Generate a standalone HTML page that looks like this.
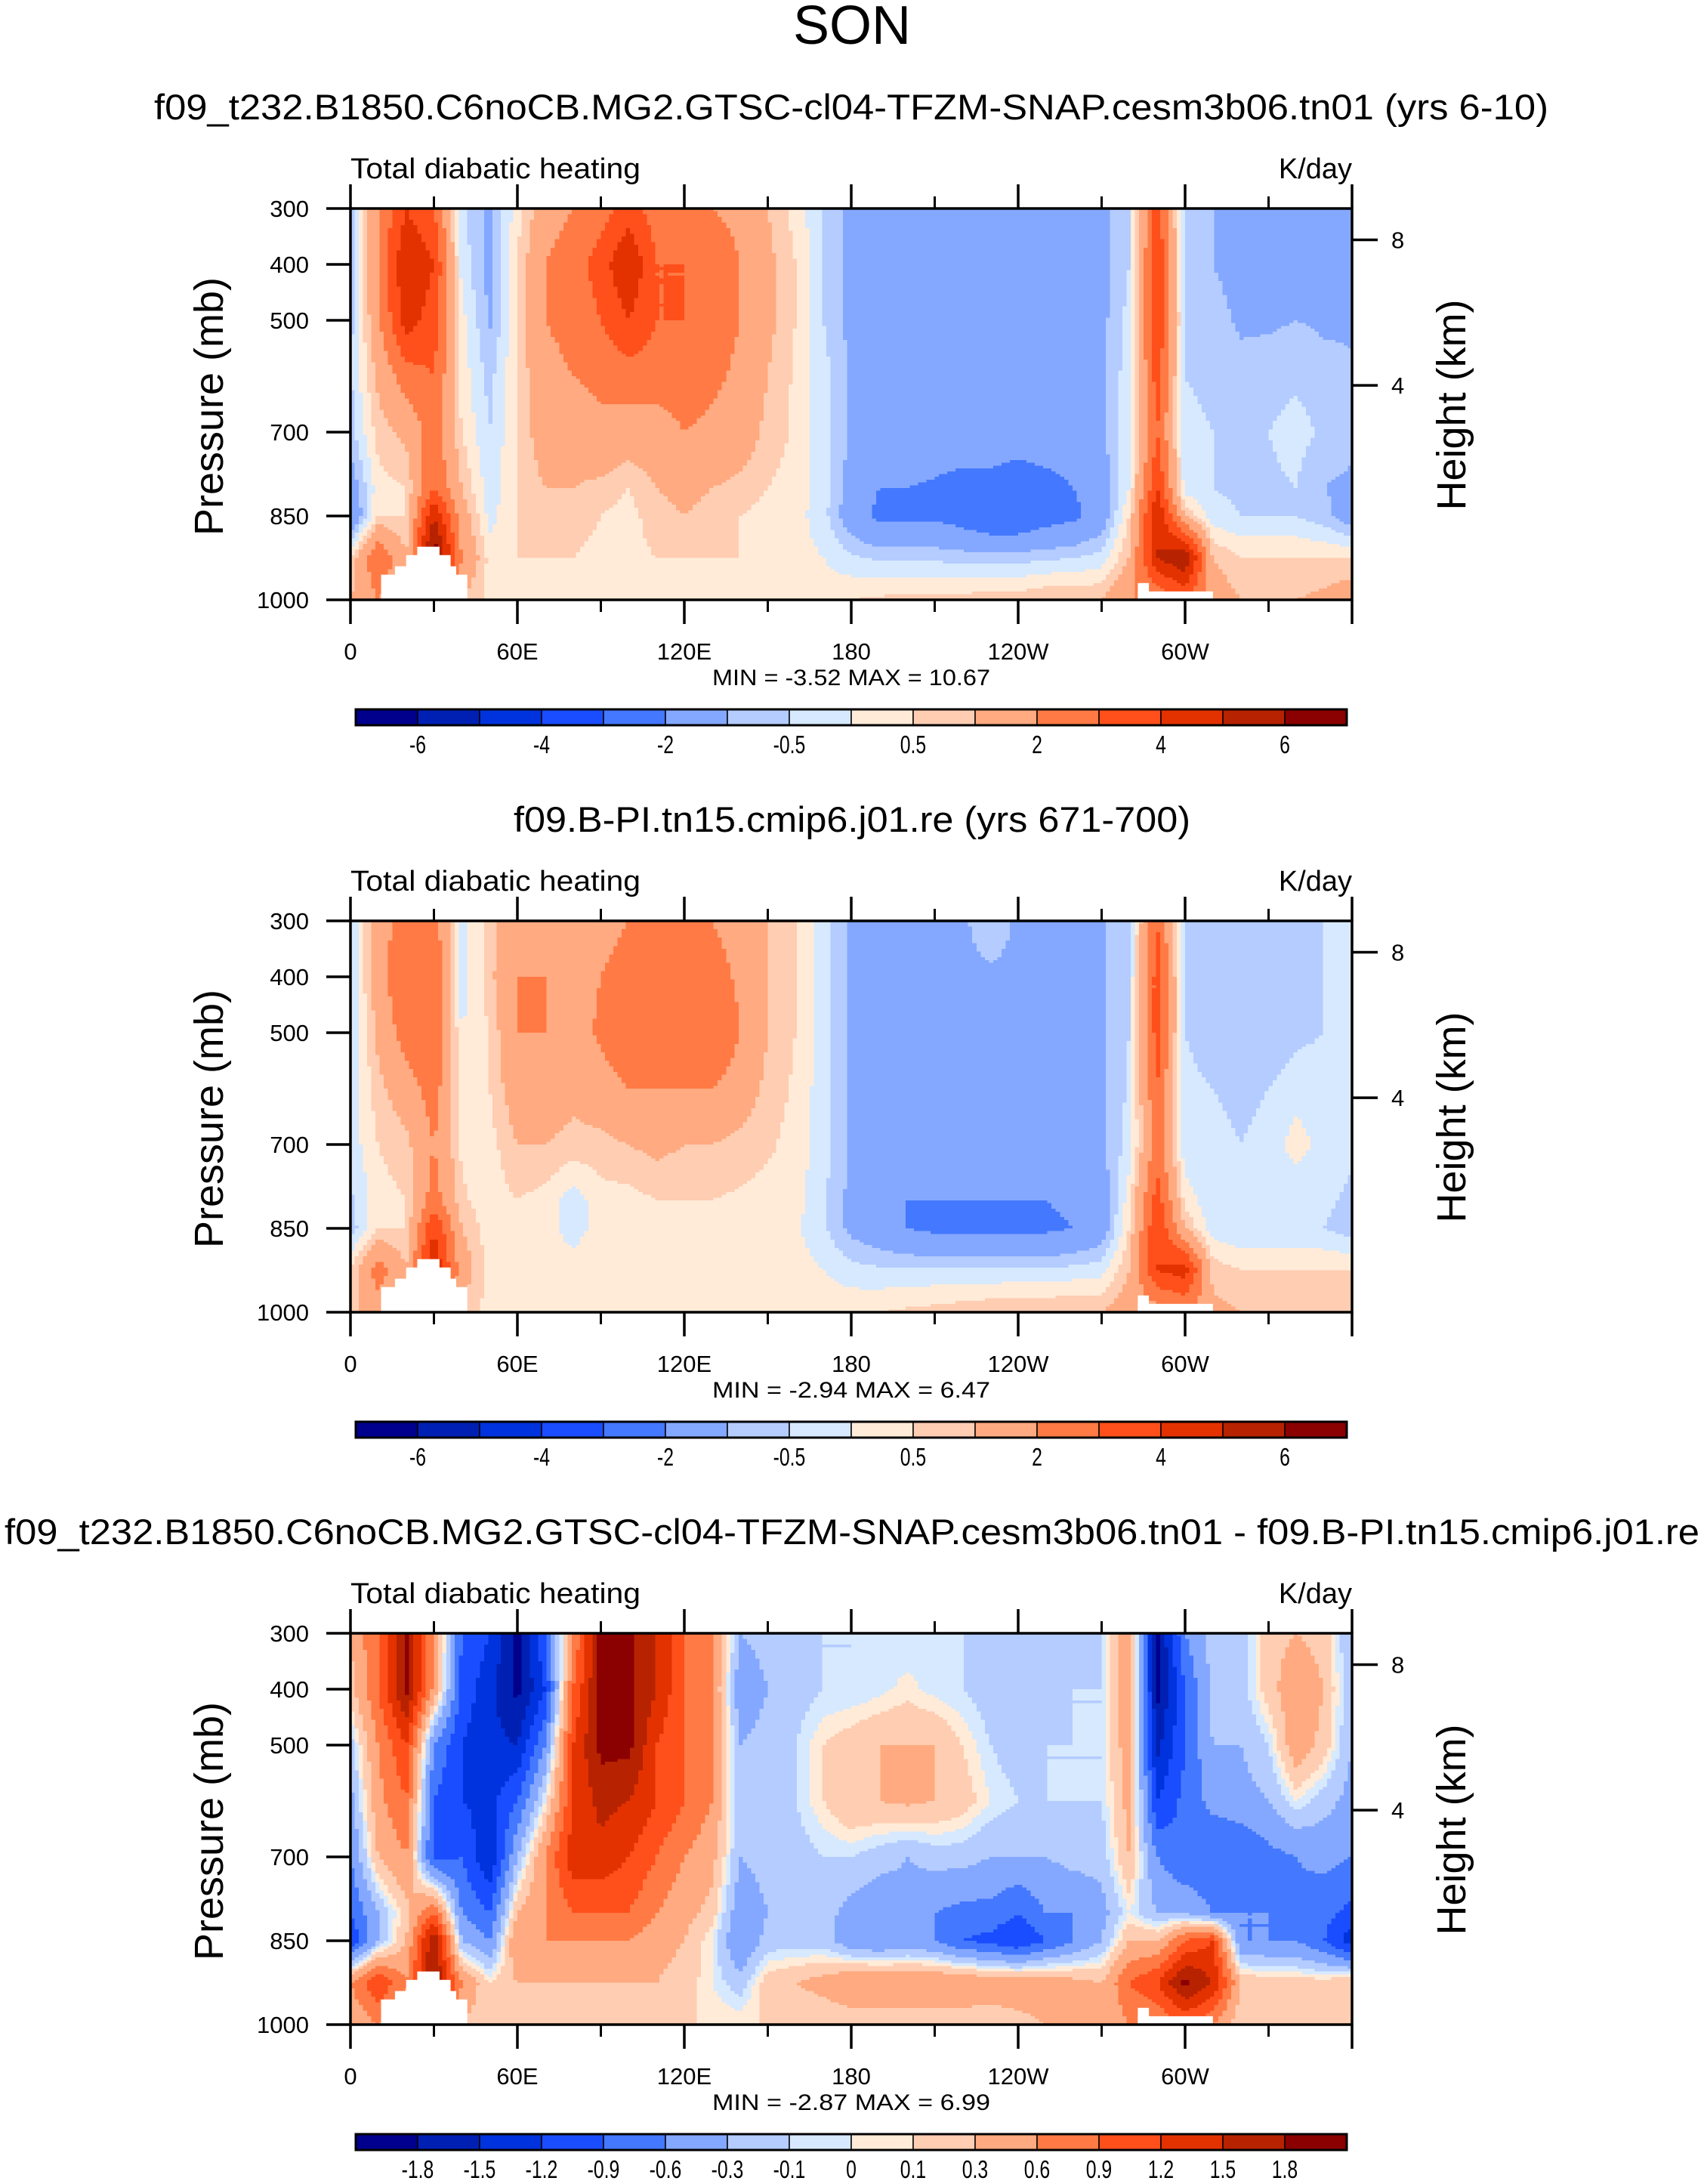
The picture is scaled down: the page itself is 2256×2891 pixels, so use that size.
<!DOCTYPE html>
<html><head><meta charset="utf-8">
<style>
html,body{margin:0;padding:0;background:#fff;}
svg{display:block;font-family:"Liberation Sans",sans-serif;}
</style></head>
<body>
<svg id="fig" width="2256" height="2891" viewBox="0 0 2256 2891" xmlns="http://www.w3.org/2000/svg">
<rect x="0" y="0" width="2256" height="2891" fill="#fff"/>
<text x="1128" y="58" font-size="72" text-anchor="middle">SON</text>
<g id="panels"></g>
</svg>
<script>
// ---- data ----
const lons = [0,10,20,30,40,50,60,70,80,90,100,110,120,130,140,150,160,170,180,190,200,210,220,230,240,250,260,270,280,290,300,310,320,330,340,350,360];
const levels = [300,400,500,600,700,800,850,925,1000];
const xTickLabels = ["0","60E","120E","180","120W","60W"];
const xTickLons = [0,60,120,180,240,300];
const xMinorLons = [30,90,150,210,270,330];
const pTicks = [300,400,500,700,850,1000];
const hTicks = [8,4];
const boundsA = [-6,-5,-4,-3,-2,-1,-0.5,0,0.5,1,2,3,4,5,6];
const boundsB = [-1.8,-1.5,-1.2,-0.9,-0.6,-0.3,-0.1,0,0.1,0.3,0.6,0.9,1.2,1.5,1.8];
const labelsA = ["-6","-4","-2","-0.5","0.5","2","4","6"];
const labelsB = ["-1.8","-1.5","-1.2","-0.9","-0.6","-0.3","-0.1","0","0.1","0.3","0.6","0.9","1.2","1.5","1.8"];
const colors = ["#00008c","#0020b4","#0033dd","#1a4dff","#4478ff","#84a8ff","#b4ccff","#d6e9ff","#ffebd8","#ffcdb2","#ffaa80","#ff7a45","#ff4f1a","#e33200","#b72200","#8b0000"];
const masks = [[11,42,955],[16,38,940],[20,36,920],[24,32,905],[283,310,985],[283,287,970]];
const titles = ["f09_t232.B1850.C6noCB.MG2.GTSC-cl04-TFZM-SNAP.cesm3b06.tn01 (yrs 6-10)","f09.B-PI.tn15.cmip6.j01.re (yrs 671-700)","f09_t232.B1850.C6noCB.MG2.GTSC-cl04-TFZM-SNAP.cesm3b06.tn01 - f09.B-PI.tn15.cmip6.j01.re"];
const minmax = ["MIN =  -3.52  MAX =  10.67","MIN =  -2.94  MAX =  6.47","MIN =  -2.87  MAX =  6.99"];

const field1 = [
[-1,2,4,3,-0.3,-1.2,0.3,1.5,2,2.5,3.5,2.5,2.5,2,1.8,1,0.3,-0.5,-1.2,-1.2,-1.2,-1.2,-1.2,-1.2,-1.2,-1.2,-1.2,-1.2,-0.5,3.5,-0.6,-1,-1.2,-1.2,-1.2,-1.2,-1.2],
[-0.8,2,5,4,-0.2,-1.2,0.5,2,2.5,3.5,5,3,3,2.5,2,1.2,0.5,-0.5,-1.2,-1.2,-1.2,-1.2,-1.2,-1.2,-1.2,-1.2,-1.2,-1.2,-0.5,4,-0.6,-1,-1.2,-1.2,-1.1,-1.2,-1.2],
[-0.7,1.8,4.5,3.5,0.2,-1.1,0.5,2,2.2,3,4,3,3,2.5,2,1.2,0.5,-0.5,-1.2,-1.2,-1.2,-1.2,-1.2,-1.2,-1.2,-1.2,-1.2,-1.2,-0.3,4,-0.5,-0.8,-1.1,-1.1,-1,-1.1,-1.1],
[-0.6,1.2,2.5,3,0.3,-0.7,0.5,1.8,2,2.2,2.5,2.5,2.5,2.2,1.8,1,0.4,-0.3,-1.1,-1.1,-1.1,-1.1,-1.1,-1.1,-1.1,-1.1,-1.1,-1.1,-0.2,3.5,-0.5,-0.6,-0.8,-0.7,-0.6,-0.8,-0.9],
[-0.7,0.7,1.2,2.5,0.5,-0.5,0.5,1.5,1.5,1.8,1.5,1.5,2,1.8,1.5,0.8,0.4,-0.3,-1.1,-1.1,-1.1,-1.1,-1.1,-1.1,-1.1,-1.1,-1.1,-1.1,-0.2,3,-0.4,-0.5,-0.6,-0.5,-0.3,-0.6,-0.7],
[-1.5,0.3,0.5,3,1,-0.3,0.5,1,1,0.8,0.5,1,1.2,1,0.8,0.5,0.3,-0.3,-1.3,-2,-2,-2.2,-2.5,-2.5,-3,-2.5,-2,-1.5,0,4,-0.3,-0.5,-0.6,-0.6,-0.5,-1,-1.2],
[-2,0.5,0.5,5,1.5,-0.2,0.5,0.8,0.8,0.5,0.3,0.8,1,0.8,0.5,0.3,0.2,-0.3,-1.5,-2.2,-2.2,-2.2,-2.5,-3,-3,-2.5,-2.2,-1.5,0.5,5,1,-0.3,-0.5,-0.5,-0.5,-0.8,-1.5],
[0.5,3,1,7,2,0.3,0.5,0.5,0.5,0.3,0.3,0.5,0.5,0.5,0.5,0.3,0.2,0,-0.4,-0.6,-0.6,-0.6,-0.7,-0.7,-0.7,-0.6,-0.5,-0.3,1,5,6,1,0.5,0.5,0.5,0.5,0.5],
[1,2,1,3,1,0.3,0.3,0.3,0.3,0.3,0.3,0.3,0.3,0.3,0.3,0.3,0.3,0.3,0.5,0.6,0.7,0.7,0.7,0.8,0.8,1,1,1,2,2,3,1.5,1,1,1,1.2,1.5]];

const field2 = [
[-0.5,1.5,2.5,2.5,-0.3,0.8,1.5,1.5,1.2,1.5,2,2,2,2,1.5,1,0.5,-0.3,-1.1,-1.1,-1.1,-1.1,-1.1,-0.7,-1.1,-1.1,-1.1,-1.1,-0.5,3,-0.5,-0.6,-0.7,-0.8,-0.6,-0.5,-0.5],
[-0.5,1.5,3,3,-0.3,0.8,2,2,1.5,2,2.5,2.5,3,2.5,1.8,1,0.5,-0.3,-1.1,-1.1,-1.1,-1.1,-1.1,-1.1,-1.1,-1.1,-1.1,-1.1,-0.5,3.5,-0.5,-0.8,-1,-1,-0.7,-0.5,-0.5],
[-0.5,1.2,2.5,3,0,0.5,2,2,1.5,2.2,3,2.5,3,3,2,1,0.5,-0.3,-1.1,-1.1,-1.1,-1.1,-1.1,-1.1,-1.1,-1.1,-1.1,-1.1,-0.5,3.5,-0.5,-0.7,-1,-0.8,-0.6,-0.5,-0.5],
[-0.4,0.8,1.5,2.5,0.2,0.5,1.5,1.5,1.2,1.5,2,2,2,2,1.5,0.8,0.4,-0.3,-1.1,-1.1,-1.1,-1.1,-1.1,-1.1,-1.1,-1.1,-1.1,-1.1,-0.4,3,-0.4,-0.5,-0.6,-0.5,-0.3,-0.3,-0.4],
[-0.3,0.5,0.8,2,0.4,0.3,1,1,0.8,0.8,1,1.2,1,1,0.8,0.6,0.3,-0.3,-1.1,-1.1,-1.1,-1.1,-1.1,-1.1,-1.1,-1.1,-1.1,-1.1,-0.3,2.5,-0.4,-0.4,-0.5,-0.4,0.3,-0.3,-0.4],
[-0.6,0.3,0.5,2.5,0.6,0.2,0.5,0.3,-0.3,0.3,0.3,0.5,0.5,0.5,0.4,0.3,0.2,-0.4,-1.2,-1.5,-2,-2,-2,-2,-2,-2,-1.8,-1.5,0.3,3.5,0.3,-0.4,-0.5,-0.5,-0.5,-0.4,-0.6],
[-0.8,0.5,0.5,4,1,0.2,0.4,0.2,-0.2,0.2,0.3,0.4,0.4,0.4,0.3,0.2,0.1,-0.4,-1.2,-1.6,-2,-2.2,-2.2,-2.2,-2.2,-2.2,-2,-1.5,0.5,4,1,-0.3,-0.5,-0.5,-0.5,-0.5,-0.8],
[0.5,2.5,1,5,1.5,0.3,0.3,0.2,0.2,0.3,0.3,0.3,0.3,0.3,0.3,0.2,0.2,0,-0.3,-0.4,-0.4,-0.4,-0.4,-0.4,-0.4,-0.4,-0.3,-0.2,1,4,4.5,0.8,0.5,0.5,0.5,0.5,0.5],
[0.8,1.5,1,2,0.8,0.3,0.3,0.3,0.3,0.3,0.3,0.3,0.3,0.3,0.3,0.3,0.3,0.3,0.4,0.5,0.6,0.7,0.8,0.9,1,1,1,1,1.5,1.5,2,1.2,1,1,1,1,1]];

const field3 = [
[0.3,0.9,1.9,0.6,-0.9,-1.2,-1.9,-0.9,0.6,1.9,1.9,1.5,0.9,0.6,-0.3,-0.2,-0.1,-0.1,-0.1,-0.1,-0.1,-0.1,-0.1,-0.2,-0.3,-0.3,-0.2,-0.1,0.6,-1.9,-0.6,-0.2,-0.2,0.2,0.3,0.2,-0.3],
[0.2,0.9,1.9,0.5,-1,-1.4,-1.9,-1.2,0.9,1.9,1.9,1.5,0.9,0.6,-0.5,-0.3,-0.2,-0.1,-0.1,-0.05,0.05,-0.05,-0.1,-0.2,-0.3,-0.2,-0.1,-0.1,0.6,-1.9,-0.9,-0.2,-0.2,0.2,0.5,0.3,-0.3],
[-0.2,0.6,1.2,-0.6,-1.2,-1.4,-1.5,-0.6,1.2,1.9,1.9,1.2,0.9,0.6,-0.3,-0.2,-0.1,0.1,0.2,0.3,0.3,0.3,0.1,-0.1,-0.2,-0.1,-0.1,-0.1,0.5,-1.6,-0.9,-0.3,-0.3,-0.1,0.5,0.2,-0.3],
[-0.4,0.5,0.9,-0.9,-1.2,-1.3,-0.9,0,1.2,1.6,1.5,1.2,0.9,0.6,-0.3,-0.2,-0.1,0.1,0.3,0.3,0.35,0.3,0.2,0,-0.1,-0.1,-0.1,-0.1,0.4,-1.2,-0.8,-0.5,-0.4,-0.3,0,-0.2,-0.4],
[-0.6,0.3,0.6,-1,-0.9,-1.5,-0.3,0.6,1.4,1.4,1.2,0.9,0.6,0.4,-0.3,-0.2,-0.2,-0.1,-0.1,-0.2,-0.3,-0.2,-0.2,-0.3,-0.3,-0.3,-0.2,-0.2,0.3,-0.6,-0.9,-0.9,-0.9,-0.7,-0.6,-0.5,-0.6],
[-0.9,-0.3,0.2,0.9,-0.6,-0.9,0.3,0.6,0.9,0.9,0.9,0.6,0.4,0.2,-0.5,-0.3,-0.3,-0.2,-0.4,-0.5,-0.4,-0.6,-0.7,-0.7,-0.9,-0.6,-0.6,-0.4,0,-0.3,-0.3,-0.6,-0.6,-0.6,-0.7,-0.8,-1],
[-1.2,-0.3,0.3,1.8,-0.3,-0.6,0.6,0.6,0.6,0.6,0.6,0.4,0.3,0,-0.6,-0.2,-0.2,-0.2,-0.5,-0.6,-0.5,-0.6,-0.9,-1,-1.2,-0.9,-0.6,-0.3,0.3,0.3,0.9,1.2,-0.6,-0.6,-0.6,-0.9,-1.4],
[0.6,1.2,0.6,1.9,0.6,0.1,0.3,0.3,0.3,0.3,0.3,0.3,0.2,0,-0.2,0.2,0.3,0.4,0.6,0.6,0.6,0.6,0.6,0.5,0.5,0.5,0.4,0.3,0.9,1.2,1.9,1.5,0.3,0.2,0.2,0.2,0.3],
[0.3,0.6,0.3,0.9,0.3,0.1,0.1,0.1,0.1,0.1,0.1,0.1,0.1,0.1,0.1,0.1,0.1,0.1,0.1,0.1,0.1,0.1,0.1,0.1,0.2,0.3,0.3,0.3,0.6,0.6,0.9,0.6,0.1,0.1,0.1,0.1,0.1]];

// ---- drawing ----
const NS = "http://www.w3.org/2000/svg";
const L = 464, R = 1790, W = R - L, H = 518, PANEL_DY = 943, TOP0 = 276;
function mk(tag, attrs, parent){ const e = document.createElementNS(NS, tag); for (const k in attrs) e.setAttribute(k, attrs[k]); parent.appendChild(e); return e; }
function xs(lon){ return L + lon/360*W; }
function ys(top, p){ return top + (p-300)/700*H; }
function hToP(z){ return 1013.25*Math.pow(1-2.25577e-5*z*1000, 5.25588); }
function sample(f, lon, p){
  let i = Math.min(lons.length-2, Math.floor(lon/10)); const tx = (lon - lons[i])/10;
  let j = 0; while (j < levels.length-2 && p > levels[j+1]) j++;
  const ty = (p - levels[j])/(levels[j+1]-levels[j]);
  const a = f[j][i]*(1-tx)+f[j][i+1]*tx, b = f[j+1][i]*(1-tx)+f[j+1][i+1]*tx;
  return a*(1-ty)+b*ty;
}
function bin(v, bounds){ let k = 0; while (k < bounds.length && v >= bounds[k]) k++; return k; }

const fields = [field1, field2, field3];
const boundsList = [boundsA, boundsA, boundsB];
const titleX = [204, 680, 6];
const titleLen = [1846, 896, 2244];
const root = document.getElementById('panels');
for (let n = 0; n < 3; n++){
  const top = TOP0 + n*PANEL_DY;
  const g = mk('g', {}, root);
  
  
  const t = mk('text', {x: titleX[n], y: top-118, 'font-size': 47, textLength: titleLen[n], lengthAdjust: 'spacingAndGlyphs'}, g);
  t.textContent = titles[n];
  
  
  const lt = mk('text', {x: L, y: top-40, 'font-size': 38, textLength: 384, lengthAdjust: 'spacingAndGlyphs'}, g); lt.textContent = "Total diabatic heating";
  
  
  const ut = mk('text', {x: R, y: top-40, 'font-size': 38, 'text-anchor': 'end'}, g); ut.textContent = "K/day";
  
  
  const cg = mk('g', {'shape-rendering': 'crispEdges'}, g);
  
  
  const dl = 1.5, dp = 5, f = fields[n], bd = boundsList[n];
  for (let p = 300; p < 1000; p += dp){
    let startLon = 0, cur = bin(sample(f, dl/2, p+dp/2), bd);
    for (let lon = dl; lon <= 360; lon += dl){
      const c = lon < 360 ? bin(sample(f, Math.min(lon+dl/2, 359.99), p+dp/2), bd) : -1;
      if (c !== cur){
        const r = mk('rect', {x: xs(startLon).toFixed(1), y: ys(top,p).toFixed(1), width: (xs(lon)-xs(startLon)+0.6).toFixed(1), height: (dp/700*H+0.6).toFixed(1), fill: colors[cur]}, cg);
        
        
        startLon = lon; cur = c;
      }
    }
  }
  masks.forEach(m => {
    const r = mk('rect', {x: xs(m[0]), y: ys(top, m[2]), width: xs(m[1])-xs(m[0]), height: ys(top,1000)-ys(top,m[2]), fill: '#fff'}, g);
    
    
  });
  const fr = mk('rect', {x: L, y: top, width: W, height: H, fill: 'none', stroke: '#000', 'stroke-width': 3.5}, g);
  
  
  xTickLons.concat([360]).forEach(lon => {
    mk('line', {x1: xs(lon), x2: xs(lon), y1: top, y2: top-32, stroke: '#000', 'stroke-width': 3.5}, g);
    mk('line', {x1: xs(lon), x2: xs(lon), y1: top+H, y2: top+H+32, stroke: '#000', 'stroke-width': 3.5}, g);
  });
  xMinorLons.forEach(lon => {
    mk('line', {x1: xs(lon), x2: xs(lon), y1: top, y2: top-16, stroke: '#000', 'stroke-width': 3}, g);
    mk('line', {x1: xs(lon), x2: xs(lon), y1: top+H, y2: top+H+16, stroke: '#000', 'stroke-width': 3}, g);
  });
  xTickLabels.forEach((lab, k) => {
    const tl = mk('text', {x: xs(xTickLons[k]), y: top+H+79, 'font-size': 31, 'text-anchor': 'middle'}, g); tl.textContent = lab;
    
    
  });
  pTicks.forEach(p => {
    mk('line', {x1: L-32, x2: L, y1: ys(top,p), y2: ys(top,p), stroke: '#000', 'stroke-width': 3.5}, g);
    const tl = mk('text', {x: 409, y: ys(top,p)+11, 'font-size': 31, 'text-anchor': 'end'}, g); tl.textContent = p;
    
    
  });
  hTicks.forEach(h => {
    const y = ys(top, hToP(h));
    mk('line', {x1: R, x2: R+34, y1: y, y2: y, stroke: '#000', 'stroke-width': 3.5}, g);
    const tl = mk('text', {x: 1842, y: y+11, 'font-size': 31}, g); tl.textContent = h;
    
    
  });
  const yt = mk('text', {x: 0, y: 0, 'font-size': 54, 'text-anchor': 'middle', transform: 'translate(295,' + (top+262) + ') rotate(-90)'}, g); yt.textContent = "Pressure (mb)";
  
  
  const ht = mk('text', {x: 0, y: 0, 'font-size': 54, 'text-anchor': 'middle', transform: 'translate(1940,' + (top+260) + ') rotate(-90)'}, g); ht.textContent = "Height (km)";
  
  
  const mm = mk('text', {x: 1127, y: top+631, 'font-size': 30, 'text-anchor': 'middle', textLength: 368, lengthAdjust: 'spacingAndGlyphs'}, g); mm.textContent = minmax[n];
  
  
  const cb = mk('g', {}, g);
  
  
  const cbL = 471, cbR = 1783, cbY = top+663, cbH = 21, bw = (cbR-cbL)/16;
  colors.forEach((c, k) => {
    const r = mk('rect', {x: cbL+k*bw, y: cbY, width: bw, height: cbH, fill: c, stroke: '#000', 'stroke-width': 1.5}, cb);
    
    
  });
  mk('rect', {x: cbL, y: cbY, width: cbR-cbL, height: cbH, fill: 'none', stroke: '#000', 'stroke-width': 3}, cb);
  const labs = n===2 ? labelsB : labelsA;
  labs.forEach((lab, k) => {
    const bi = n===2 ? k+1 : 2*k+1;
    const cx = cbL+bi*bw;
    const tl = mk('text', {x: cx/0.75, y: cbY+58, 'font-size': 33, 'text-anchor': 'middle', transform: 'scale(0.75,1)'}, cb);
    tl.textContent = lab;
    
    
  });
}
</script>
</body></html>
